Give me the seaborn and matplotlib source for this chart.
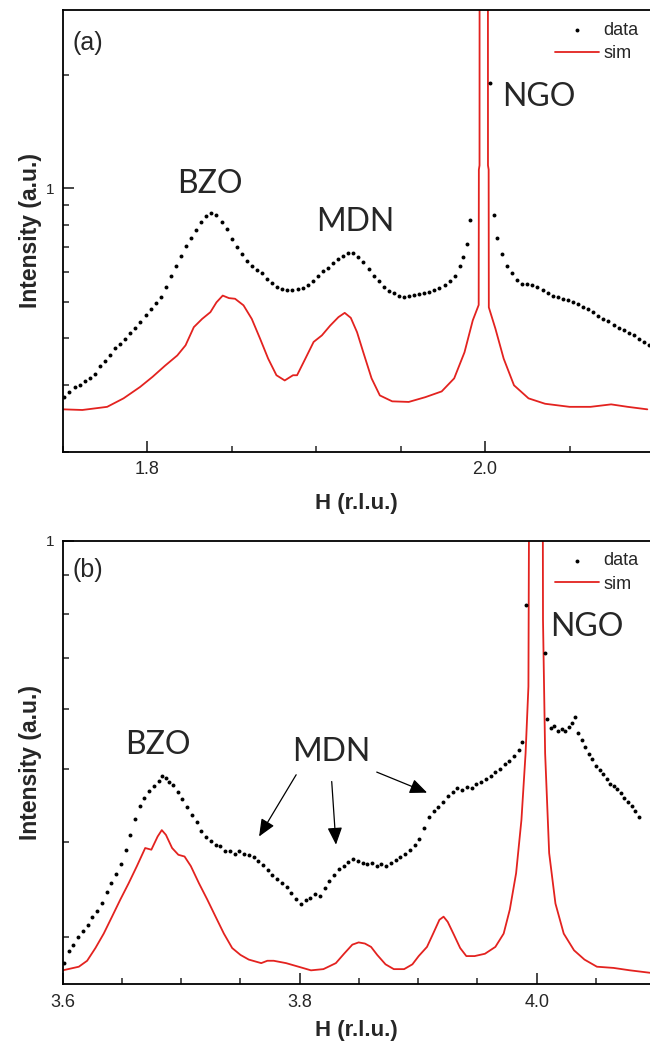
import numpy as np
import matplotlib
matplotlib.use("Agg")
import matplotlib.pyplot as plt
import matplotlib.ticker as mticker
import seaborn as sns

# ---------------- panel (a) ----------------
a_data_h = [1.751, 1.754, 1.757, 1.760, 1.763, 1.766, 1.769, 1.772, 1.775, 1.778,
            1.781, 1.784, 1.787, 1.790, 1.793, 1.796, 1.799, 1.802, 1.805, 1.808,
            1.811, 1.814, 1.817, 1.820, 1.823, 1.826, 1.829, 1.832, 1.835, 1.838,
            1.841, 1.844, 1.847, 1.850, 1.853, 1.856, 1.859, 1.862, 1.865, 1.868,
            1.871, 1.874, 1.877, 1.880, 1.883, 1.886, 1.889, 1.892, 1.895, 1.898,
            1.901, 1.904, 1.907, 1.910, 1.913, 1.916, 1.919, 1.922, 1.925, 1.928,
            1.931, 1.934, 1.937, 1.940, 1.943, 1.946, 1.949, 1.952, 1.955, 1.958,
            1.961, 1.964, 1.967, 1.970, 1.973, 1.976, 1.979, 1.982, 1.985, 1.987,
            1.989, 1.991, 2.003, 2.005, 2.007, 2.010, 2.013, 2.016, 2.019, 2.022,
            2.025, 2.028, 2.031, 2.034, 2.037, 2.040, 2.043, 2.046, 2.049, 2.052,
            2.055, 2.058, 2.061, 2.064, 2.067, 2.070, 2.073, 2.076, 2.079, 2.082,
            2.085, 2.088, 2.091, 2.094, 2.097]
a_data_i = [0.279, 0.288, 0.296, 0.301, 0.308, 0.314, 0.322, 0.338, 0.349, 0.361,
            0.377, 0.387, 0.398, 0.412, 0.425, 0.441, 0.462, 0.478, 0.496, 0.516,
            0.548, 0.585, 0.622, 0.662, 0.702, 0.738, 0.775, 0.816, 0.845, 0.860,
            0.848, 0.815, 0.780, 0.735, 0.698, 0.668, 0.640, 0.621, 0.606, 0.594,
            0.576, 0.559, 0.548, 0.541, 0.538, 0.536, 0.540, 0.545, 0.553, 0.568,
            0.585, 0.602, 0.616, 0.632, 0.648, 0.662, 0.675, 0.672, 0.655, 0.636,
            0.612, 0.585, 0.566, 0.548, 0.535, 0.526, 0.519, 0.514, 0.517, 0.521,
            0.523, 0.526, 0.531, 0.537, 0.543, 0.552, 0.566, 0.586, 0.620, 0.656,
            0.712, 0.825, 1.900, 0.848, 0.736, 0.668, 0.623, 0.597, 0.570, 0.556,
            0.558, 0.553, 0.548, 0.536, 0.527, 0.519, 0.514, 0.509, 0.505, 0.499,
            0.492, 0.484, 0.477, 0.469, 0.459, 0.451, 0.443, 0.434, 0.427, 0.421,
            0.414, 0.408, 0.398, 0.390, 0.383]

a_sim_h = [1.7506, 1.7616, 1.7763, 1.7860, 1.7958, 1.8032, 1.8105, 1.8178, 1.8227, 1.8276,
           1.8325, 1.8374, 1.8410, 1.8447, 1.8484, 1.8520, 1.8570, 1.8619, 1.8668, 1.8716,
           1.8765, 1.8814, 1.8863, 1.8887, 1.8936, 1.8985, 1.9034, 1.9083, 1.9132, 1.9169,
           1.9205, 1.9242, 1.9279, 1.9328, 1.9377, 1.9450, 1.9548, 1.9646, 1.9743, 1.9817,
           1.9878, 1.9927, 1.9962, 1.9963, 1.9967, 1.9968, 2.0016, 2.0017, 2.0021, 2.0022,
           2.0061, 2.0110, 2.0171, 2.0257, 2.0355, 2.0500, 2.0624, 2.0746, 2.0844, 2.0960]
a_sim_i = [0.259, 0.258, 0.263, 0.277, 0.297, 0.316, 0.338, 0.360, 0.383, 0.428,
           0.450, 0.469, 0.498, 0.519, 0.511, 0.509, 0.489, 0.450, 0.399, 0.353,
           0.319, 0.309, 0.319, 0.319, 0.353, 0.391, 0.407, 0.432, 0.455, 0.467,
           0.453, 0.415, 0.367, 0.313, 0.282, 0.272, 0.271, 0.279, 0.289, 0.313,
           0.367, 0.446, 0.490, 1.12, 1.15, 30.0, 30.0, 1.15, 1.12, 0.483,
           0.424, 0.353, 0.300, 0.277, 0.268, 0.263, 0.263, 0.267, 0.263, 0.259]

# ---------------- panel (b) ----------------
b_data_h = [3.601, 3.605, 3.609, 3.613, 3.617, 3.621, 3.625, 3.629, 3.633, 3.637,
            3.641, 3.645, 3.649, 3.653, 3.657, 3.661, 3.665, 3.669, 3.673, 3.677,
            3.681, 3.684, 3.687, 3.690, 3.693, 3.697, 3.701, 3.705, 3.709, 3.713,
            3.717, 3.721, 3.725, 3.729, 3.733, 3.737, 3.741, 3.745, 3.749, 3.753,
            3.757, 3.761, 3.765, 3.769, 3.773, 3.777, 3.781, 3.785, 3.789, 3.793,
            3.797, 3.801, 3.805, 3.809, 3.813, 3.817, 3.821, 3.825, 3.829, 3.833,
            3.837, 3.841, 3.845, 3.849, 3.853, 3.857, 3.861, 3.865, 3.869, 3.873,
            3.877, 3.881, 3.885, 3.889, 3.893, 3.897, 3.901, 3.905, 3.909, 3.913,
            3.917, 3.921, 3.925, 3.929, 3.933, 3.937, 3.941, 3.945, 3.949, 3.953,
            3.957, 3.961, 3.965, 3.969, 3.973, 3.977, 3.981, 3.985, 3.988, 3.991,
            4.007, 4.009, 4.012, 4.015, 4.018, 4.021, 4.024, 4.027, 4.030, 4.032,
            4.035, 4.038, 4.041, 4.044, 4.047, 4.050, 4.053, 4.056, 4.059, 4.062,
            4.065, 4.068, 4.071, 4.074, 4.077, 4.080, 4.083, 4.086]
b_data_i = [0.277, 0.287, 0.293, 0.300, 0.305, 0.311, 0.319, 0.325, 0.333, 0.344,
            0.353, 0.363, 0.374, 0.391, 0.409, 0.429, 0.446, 0.458, 0.468, 0.474,
            0.482, 0.489, 0.486, 0.481, 0.476, 0.466, 0.456, 0.445, 0.434, 0.425,
            0.414, 0.406, 0.402, 0.397, 0.396, 0.390, 0.389, 0.386, 0.389, 0.386,
            0.385, 0.382, 0.378, 0.373, 0.368, 0.362, 0.358, 0.353, 0.349, 0.343,
            0.337, 0.332, 0.336, 0.338, 0.342, 0.340, 0.348, 0.355, 0.362, 0.369,
            0.372, 0.377, 0.380, 0.378, 0.376, 0.374, 0.376, 0.372, 0.374, 0.372,
            0.376, 0.379, 0.382, 0.386, 0.391, 0.397, 0.404, 0.418, 0.432, 0.440,
            0.445, 0.452, 0.460, 0.466, 0.471, 0.469, 0.473, 0.472, 0.478, 0.480,
            0.485, 0.489, 0.495, 0.500, 0.507, 0.512, 0.520, 0.530, 0.543, 0.822,
            0.711, 0.581, 0.566, 0.570, 0.560, 0.565, 0.561, 0.568, 0.575, 0.586,
            0.557, 0.545, 0.534, 0.523, 0.515, 0.505, 0.498, 0.492, 0.485, 0.478,
            0.474, 0.470, 0.465, 0.458, 0.452, 0.446, 0.440, 0.432]

b_sim_h = [3.6000, 3.6136, 3.6206, 3.6276, 3.6346, 3.6416, 3.6486, 3.6556, 3.6626, 3.6696,
           3.6748, 3.6801, 3.6836, 3.6871, 3.6923, 3.6976, 3.7028, 3.7081, 3.7150, 3.7220,
           3.7290, 3.7360, 3.7430, 3.7500, 3.7570, 3.7675, 3.7727, 3.7780, 3.7885, 3.7990,
           3.8095, 3.8200, 3.8305, 3.8374, 3.8444, 3.8497, 3.8550, 3.8602, 3.8654, 3.8724,
           3.8794, 3.8881, 3.8951, 3.9004, 3.9074, 3.9126, 3.9179, 3.9214, 3.9249, 3.9301,
           3.9354, 3.9406, 3.9476, 3.9563, 3.9651, 3.9721, 3.9773, 3.9826, 3.9871, 3.9906,
           3.9930, 3.9950, 4.0044, 4.0053, 4.0071, 4.0105, 4.0158, 4.0228, 4.0315, 4.0403,
           4.0508, 4.0648, 4.0787, 4.0955]
b_sim_i = [0.271, 0.274, 0.279, 0.290, 0.303, 0.319, 0.336, 0.353, 0.372, 0.393,
           0.391, 0.407, 0.415, 0.409, 0.393, 0.385, 0.383, 0.372, 0.353, 0.336,
           0.319, 0.303, 0.290, 0.284, 0.280, 0.277, 0.279, 0.279, 0.277, 0.274,
           0.271, 0.272, 0.277, 0.285, 0.293, 0.295, 0.294, 0.291, 0.284, 0.276,
           0.272, 0.272, 0.276, 0.283, 0.291, 0.303, 0.316, 0.319, 0.314, 0.302,
           0.290, 0.283, 0.283, 0.285, 0.291, 0.303, 0.326, 0.364, 0.428, 0.524,
           0.642, 5.0, 5.0, 0.786, 0.524, 0.387, 0.332, 0.303, 0.288, 0.280,
           0.274, 0.273, 0.271, 0.269]

# ---------------- style ----------------
sns.set_style("ticks")
plt.rcParams['font.family'] = ['Liberation Sans', 'DejaVu Sans']
RED = '#e3221f'
LABEL_FONT = ['Lato', 'DejaVu Sans']

fig = plt.figure(figsize=(6.5, 10.46), dpi=100)
ax1 = fig.add_axes([0.0965, 0.5682, 0.9035, 0.4222])
ax2 = fig.add_axes([0.0965, 0.0593, 0.9035, 0.4238])


def draw(ax, dh, di, sh, si):
    sns.scatterplot(x=dh, y=di, ax=ax, color='black', s=8, linewidth=0,
                    label='data', zorder=3)
    sns.lineplot(x=sh, y=si, ax=ax, color=RED, lw=1.3, estimator=None,
                 sort=False, label='sim', zorder=2)


draw(ax1, a_data_h, a_data_i, a_sim_h, a_sim_i)
draw(ax2, b_data_h, b_data_i, b_sim_h, b_sim_i)

limits = [((1.75, 2.0976), (0.2, 2.97), [1.8, 2.0]),
          ((3.6, 4.0956), (0.26, 1.0), [3.6, 3.8, 4.0])]

for ax, (xl, yl, xmaj) in zip([ax1, ax2], limits):
    ax.set_yscale('log')
    ax.set_xlim(*xl)
    ax.set_ylim(*yl)
    ax.xaxis.set_major_locator(mticker.FixedLocator(xmaj))
    ax.xaxis.set_major_formatter(mticker.FormatStrFormatter('%.1f'))
    ax.xaxis.set_minor_locator(mticker.MultipleLocator(0.05))
    ax.yaxis.set_major_locator(mticker.FixedLocator([1.0]))
    ax.yaxis.set_major_formatter(mticker.FixedFormatter(['1']))
    ax.yaxis.set_minor_locator(mticker.LogLocator(base=10, subs=np.arange(2, 10) * 1.0, numticks=20))
    ax.yaxis.set_minor_formatter(mticker.NullFormatter())
    ax.tick_params(axis='both', which='major', direction='in', length=8, width=1.2,
                   labelsize=13, pad=7, top=False, right=False)
    ax.tick_params(axis='both', which='minor', direction='in', length=4.5, width=1.1,
                   top=False, right=False)
    ax.tick_params(axis='y', which='major', labelsize=11, pad=6)
    for s in ['left', 'bottom', 'top']:
        ax.spines[s].set_linewidth(1.3)
        ax.spines[s].set_color('black')
    ax.spines['right'].set_visible(False)
    ax.set_xlabel('H (r.l.u.)', fontsize=16, fontweight='bold')
    ax.set_ylabel('Intensity (a.u.)', fontsize=16.5, fontweight='bold')
    ax.yaxis.set_label_coords(-0.036, 0.5)
    ax.legend(loc='upper right', bbox_to_anchor=(1.0, 1.0), frameon=False,
              fontsize=13, handlelength=2.4, handletextpad=0.25,
              labelspacing=0.35, borderaxespad=0.25, markerscale=1.0)

ax1.xaxis.set_label_coords(0.5, -0.094)
ax2.xaxis.set_label_coords(0.5, -0.082)

# panel letters
ax1.text(0.016, 0.925, '(a)', transform=ax1.transAxes, fontsize=18, va='center')
ax2.text(0.016, 0.933, '(b)', transform=ax2.transAxes, fontsize=18, va='center')

# peak labels
lab_kw = dict(fontsize=23, family=LABEL_FONT, ha='center', va='baseline')
ax1.text(1.837, 0.97, 'BZO', **lab_kw)
ax1.text(1.923, 0.769, 'MDN', **lab_kw)
ax1.text(2.0315, 1.65, 'NGO', **lab_kw)

ax2.text(3.680, 0.523, 'BZO', **lab_kw)
ax2.text(3.827, 0.512, 'MDN', **lab_kw)
ax2.text(4.0425, 0.748, 'NGO', **lab_kw)

arrow_kw = dict(arrowstyle='-|>,head_length=0.7,head_width=0.3', color='black',
                lw=0.9, mutation_scale=15, shrinkA=0, shrinkB=0)
ax2.annotate('', xy=(3.7657, 0.407), xytext=(3.797, 0.491), arrowprops=arrow_kw)
ax2.annotate('', xy=(3.8306, 0.397), xytext=(3.827, 0.481), arrowprops=arrow_kw)
ax2.annotate('', xy=(3.9075, 0.465), xytext=(3.865, 0.495), arrowprops=arrow_kw)

fig.savefig('out.png', dpi=100)
